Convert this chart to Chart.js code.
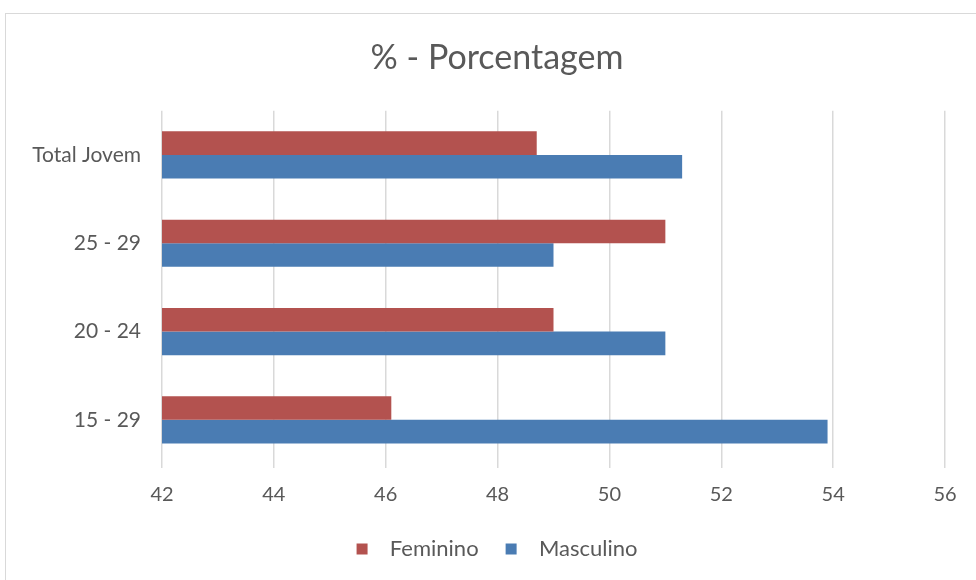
<!DOCTYPE html>
<html lang="pt">
<head>
    <meta charset="UTF-8">
    <title>% - Porcentagem</title>
    <script src="https://cdn.jsdelivr.net/npm/chart.js"></script>
    <style>
        body {
            margin: 0;
            background: #fff;
            overflow: hidden;
        }
        .frame {
            position: absolute;
            left: 5px;
            top: 13px;
            width: 990px;
            height: 600px;
            border: 1px solid #d9d9d9;
        }
        .chart-container {
            position: absolute;
            left: 0;
            top: 0;
            width: 994px;
            height: 580px;
        }
    </style>
</head>
<body>
    <div class="frame"></div>
    <div class="chart-container">
        <canvas id="pctChart"></canvas>
    </div>

    <script>
        const categories = ['Total Jovem', '25 - 29', '20 - 24', '15 - 29'];
        const feminino = [48.7, 51.0, 49.0, 46.1];
        const masculino = [51.3, 49.0, 51.0, 53.9];
        const xMin = 42;
        const xMax = 56;
        const xStep = 2;

        const textColor = '#595959';
        const fontFamily = 'Lato, "Open Sans", sans-serif';

        const ctx = document.getElementById('pctChart').getContext('2d');
        new Chart(ctx, {
            type: 'bar',
            data: {
                labels: categories,
                datasets: [
                    {
                        label: 'Feminino',
                        data: feminino,
                        backgroundColor: '#B3524F',
                        borderWidth: 0,
                        barPercentage: 1,
                        categoryPercentage: 0.535
                    },
                    {
                        label: 'Masculino',
                        data: masculino,
                        backgroundColor: '#4A7CB3',
                        borderWidth: 0,
                        barPercentage: 1,
                        categoryPercentage: 0.535
                    }
                ]
            },
            options: {
                indexAxis: 'y',
                responsive: true,
                maintainAspectRatio: false,
                animation: false,
                layout: {
                    padding: { left: 0, right: 0, top: 0, bottom: 10 }
                },
                plugins: {
                    title: {
                        display: true,
                        text: '% - Porcentagem',
                        color: textColor,
                        font: { family: fontFamily, size: 34, weight: 'normal' },
                        padding: { top: 38, bottom: 32 }
                    },
                    legend: {
                        position: 'bottom',
                        labels: {
                            color: textColor,
                            font: { family: fontFamily, size: 22 },
                            boxWidth: 11,
                            boxHeight: 11,
                            padding: 27,
                            // a little more room between the swatch and its text
                            generateLabels: chart => {
                                const items = Chart.defaults.plugins.legend.labels.generateLabels(chart);
                                items.forEach(item => { item.text = '  ' + item.text; });
                                return items;
                            }
                        }
                    },
                    tooltip: { enabled: false }
                },
                scales: {
                    x: {
                        min: xMin,
                        max: xMax,
                        ticks: {
                            stepSize: xStep,
                            color: textColor,
                            font: { family: fontFamily, size: 20 },
                            padding: 15
                        },
                        grid: {
                            color: '#d9d9d9',
                            lineWidth: 1.5,
                            tickLength: 4
                        },
                        border: { display: false },
                        afterFit: scale => { scale.height = 47; }
                    },
                    y: {
                        ticks: {
                            color: textColor,
                            font: { family: fontFamily, size: 21 },
                            padding: 13
                        },
                        grid: { display: false },
                        border: { display: false },
                        afterFit: scale => { scale.width = 162; }
                    },
                    // empty right-hand axis: reserves space so title/legend sit centred as in the original
                    yRight: {
                        type: 'category',
                        position: 'right',
                        ticks: { display: false },
                        grid: { display: false },
                        border: { display: false },
                        afterFit: scale => { scale.width = 49; }
                    }
                }
            }
        });
    </script>
</body>
</html>
